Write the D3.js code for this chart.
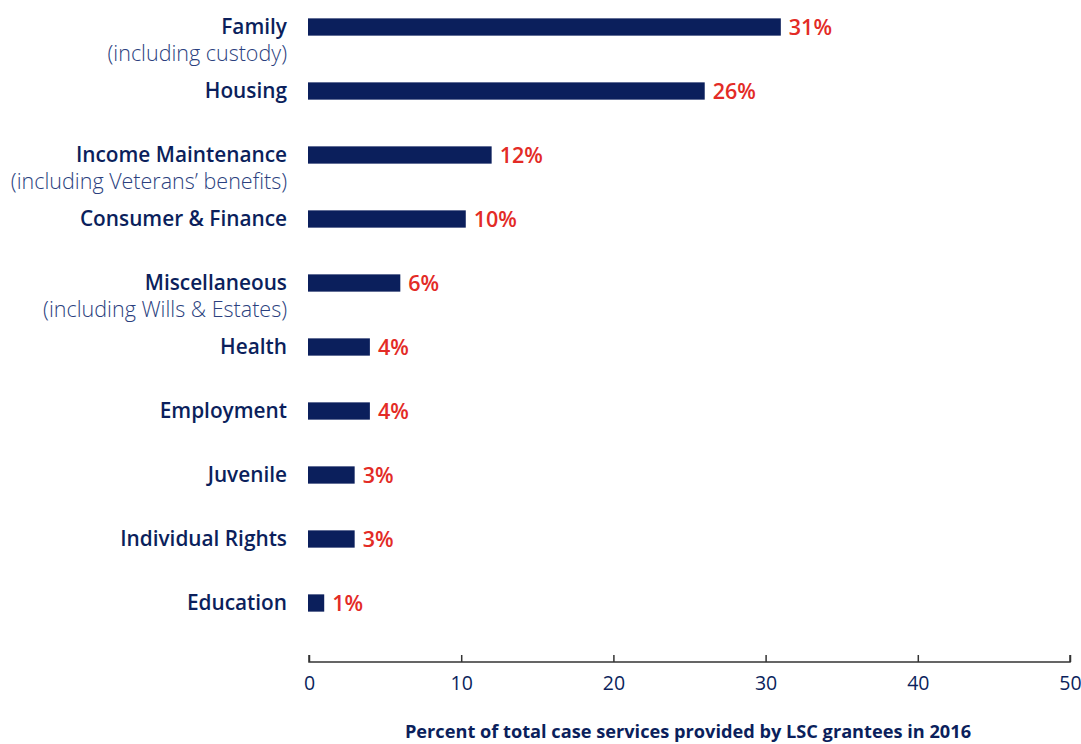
<!DOCTYPE html>
<html>
<head>
<meta charset="utf-8">
<script src="https://d3js.org/d3.v7.min.js"></script>
<style>
  body { margin: 0; background: #fff; }
  svg { display: block; font-family: "Open Sans", Roboto, sans-serif; }
</style>
</head>
<body>
<svg id="chart" width="1081" height="744"></svg>
<script>
// chart data
const categories = ["Family", "Housing", "Income Maintenance", "Consumer & Finance",
  "Miscellaneous", "Health", "Employment", "Juvenile", "Individual Rights", "Education"];
const subLabels = ["(including custody)", "", "(including Veterans’ benefits)", "",
  "(including Wills & Estates)", "", "", "", "", ""];
const values = [31, 26, 12, 10.3, 6, 4, 4, 3, 3, 1];
const xTicks = [0, 10, 20, 30, 40, 50];
const axisTitle = "Percent of total case services provided by LSC grantees in 2016";

const navy = "#0b1f5c";
const red = "#e32b26";

const svg = d3.select("#chart");

const x = d3.scaleLinear().domain([0, 50]).range([309, 1070]);
const y = d3.scaleBand().domain(categories).range([-5, 635]).paddingInner(0.73).paddingOuter(0.365);

// bars
svg.selectAll("rect.bar")
  .data(categories)
  .enter()
  .append("rect")
  .attr("class", "bar")
  .attr("x", x(0) - 1)
  .attr("y", (d) => y(d))
  .attr("width", (d, i) => x(values[i]) - x(0) + 1)
  .attr("height", y.bandwidth())
  .attr("fill", navy);

// value labels
svg.selectAll("text.val")
  .data(categories)
  .enter()
  .append("text")
  .attr("class", "val")
  .attr("x", (d, i) => x(values[i]) + 8)
  .attr("y", (d) => y(d) + y.bandwidth() / 2 + 7.5)
  .attr("fill", red)
  .attr("font-size", 21.5)
  .attr("font-weight", 600)
  .text((d, i) => Math.round(values[i]) + "%");

// category labels
svg.selectAll("text.cat")
  .data(categories)
  .enter()
  .append("text")
  .attr("class", "cat")
  .attr("x", 287)
  .attr("y", (d) => y(d) + y.bandwidth() / 2 + 7)
  .attr("text-anchor", "end")
  .attr("fill", navy)
  .attr("font-size", 20.8)
  .attr("font-weight", 600)
  .text((d) => d);

svg.selectAll("text.sub")
  .data(categories.filter((d, i) => subLabels[i]))
  .enter()
  .append("text")
  .attr("class", "sub")
  .attr("x", 287)
  .attr("y", (d) => y(d) + y.bandwidth() / 2 + 33.5)
  .attr("text-anchor", "end")
  .attr("fill", "#2b3f7e")
  .attr("font-size", 21.5)
  .attr("font-weight", 300)
  .text((d) => subLabels[categories.indexOf(d)]);

// x axis
const axis = svg.append("g")
  .attr("transform", "translate(0,662)")
  .call(d3.axisBottom(x).tickValues(xTicks).tickSize(-7).tickPadding(11));
axis.select(".domain").attr("stroke", "#333").attr("stroke-width", 1.5).attr("d", `M${x(0)},-7V0H${x(50)}V-7`);
axis.selectAll(".tick line").attr("stroke", "#333").attr("stroke-width", 1.5);
axis.selectAll(".tick text")
  .attr("fill", navy)
  .attr("font-size", 19.5)
  .attr("font-family", "'Open Sans', sans-serif")
  .attr("dy", "0.85em");

svg.append("text")
  .attr("x", 688)
  .attr("y", 738)
  .attr("text-anchor", "middle")
  .attr("fill", navy)
  .attr("font-size", 18.2)
  .attr("font-weight", 700)
  .text(axisTitle);
</script>
</body>
</html>
